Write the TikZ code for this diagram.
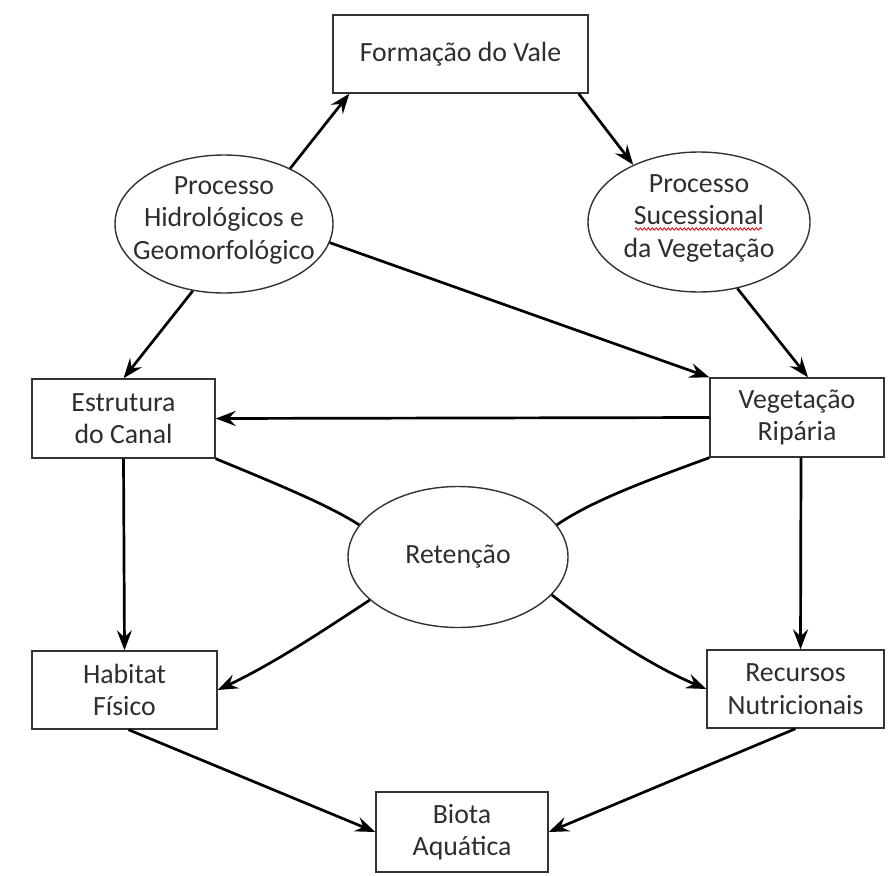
\documentclass[tikz,border=0pt]{standalone}
\usepackage{fontspec}
\setmainfont{Carlito}
\usetikzlibrary{shapes.geometric,arrows.meta,decorations.pathmorphing}
\begin{document}
\begin{tikzpicture}[x=1pt,y=-1pt,
  txt/.style={align=center,text=black!82,font=\fontsize{27.8}{32.5}\selectfont},
  boxnode/.style={txt,draw=black!80,line width=1.4pt,inner sep=0pt},
  ellnode/.style={ellipse,draw=black!80,line width=1.4pt,inner sep=0pt},
  ln/.style={line width=2.7pt,black},
  arr/.style={ln,-{Stealth[length=20pt,width=15pt,inset=7pt]}}]
\fill[white] (0,0) rectangle (888,875);
\useasboundingbox (0,0) rectangle (888,875);

% boxes
\node[boxnode,minimum width=255pt,minimum height=78pt] (fv) at (460.5,54) {Formação do Vale};
\node[boxnode,minimum width=183pt,minimum height=79pt] (ec) at (123.5,418.5) {Estrutura\\do Canal};
\node[boxnode,minimum width=174pt,minimum height=79pt] (vr) at (797,417.5) {Vegetação\\Ripária};
\node[boxnode,minimum width=185pt,minimum height=78pt] (hf) at (124.5,690) {Habitat\\Físico};
\node[boxnode,minimum width=177pt,minimum height=78pt] (rn) at (795.5,689) {Recursos\\Nutricionais};
\node[boxnode,minimum width=172pt,minimum height=80pt] (ba) at (462,832) {Biota\\Aquática};

% ellipses
\node[ellnode,minimum width=218pt,minimum height=138pt,
  label={[txt,yshift=4pt]center:Processo\\Hidrológicos e\\Geomorfológico}] (ph) at (224,224) {};
\node[ellnode,minimum width=222pt,minimum height=140pt,
  label={[txt,yshift=4pt]center:Processo\\Sucessional\\da Vegetação}] (ps) at (699,222) {};
\node[ellnode,minimum width=220pt,minimum height=141pt,
  label={[txt]center:Retenção}] (rt) at (458,557) {};

% spell-check underline
\draw[red!85!black,line width=0.8pt,decorate,decoration={snake,amplitude=1.2pt,segment length=4pt}]
  (635,229) -- (762,229);

% straight connectors
\draw[arr] (ph.40) -- ([xshift=17pt]fv.south west);
\draw[arr] ([xshift=-10pt]fv.south east) -- (ps.139);
\draw[arr] (ph.-10) -- (vr.north west);
\draw[arr] (ps.-60) -- ([xshift=11pt]vr.north);
\draw[arr] (ph.245) -- (ec.north);
\draw[arr] (vr.west) -- (ec.east);
\draw[arr] (ec.south) -- (hf.north);
\draw[arr] ([xshift=4pt]vr.south) -- ([xshift=5pt]rn.north);
\draw[arr] ([xshift=4pt]hf.south) -- (ba.west);
\draw[arr] (rn.south) -- (ba.east);

% curved connectors through Retenção
\draw[ln] (ec.south east) .. controls (282,486) and (330,506) .. (rt.162);
\draw[ln] (vr.south west) .. controls (640,483) and (590,502) .. (rt.18);
\draw[arr] (rt.206) .. controls (330,626) and (277,662) .. (hf.east);
\draw[arr] (rt.-22) .. controls (592,626) and (647,664) .. (rn.west);
\end{tikzpicture}
\end{document}
